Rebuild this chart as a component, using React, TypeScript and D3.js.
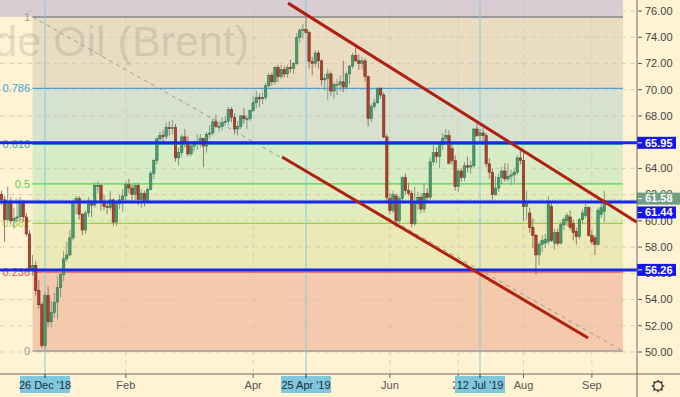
import React from "react";
import * as d3 from "d3";

// ---- data: daily OHLC (open, high, low, close), Brent, one array per month ----
const firstIndex = -14; // Dec 5 2018, index 0 = 26 Dec '18
const dec18: number[][] = [
  [62.0, 62.3, 61.2, 61.6], [61.6, 61.9, 58.4, 60.1], [60.1, 62.6, 60.0, 61.5], [61.4, 61.8, 59.7, 60.0],
  [60.0, 61.0, 59.4, 60.2], [60.2, 61.7, 59.9, 60.3], [60.3, 61.8, 60.0, 61.5], [61.5, 61.6, 59.9, 60.3],
  [60.3, 60.6, 58.8, 59.0], [59.0, 59.3, 56.1, 56.3], [56.2, 57.4, 55.8, 56.6], [56.6, 56.9, 54.3, 54.7],
  [54.7, 55.5, 53.3, 53.6], [53.6, 53.8, 50.3, 50.5], [50.5, 54.6, 50.2, 54.3], [54.3, 55.0, 51.9, 52.3],
  [52.3, 53.9, 51.8, 53.0], [53.0, 54.5, 52.6, 53.8],
];
const jan19: number[][] = [
  [53.8, 55.8, 52.5, 54.9], [54.9, 56.0, 54.2, 55.9], [55.9, 57.7, 55.4, 57.1], [57.1, 58.4, 56.9, 57.4],
  [57.4, 59.3, 57.3, 58.7], [58.7, 61.6, 58.5, 61.4], [61.4, 61.9, 60.5, 61.7], [61.7, 61.9, 60.1, 60.5],
  [60.5, 60.6, 58.9, 59.3], [59.3, 60.8, 59.0, 60.6], [60.6, 61.8, 60.3, 61.3], [61.3, 61.6, 60.3, 61.2],
  [61.2, 62.9, 61.0, 62.7], [62.7, 63.0, 62.1, 62.7], [62.7, 62.8, 60.8, 61.5], [61.5, 62.0, 60.8, 61.1],
  [61.1, 61.5, 60.5, 61.0], [61.0, 62.3, 60.8, 61.6], [61.6, 61.7, 59.6, 59.9], [59.9, 61.5, 59.6, 61.3],
  [61.3, 62.0, 60.9, 61.6], [61.6, 62.4, 60.7, 61.9],
];
const feb19: number[][] = [
  [61.9, 63.0, 61.3, 62.75], [62.75, 63.2, 62.1, 62.5], [62.5, 62.8, 61.3, 62.0], [62.0, 62.9, 61.5, 62.7],
  [62.7, 62.9, 61.2, 61.6], [61.6, 62.4, 61.0, 62.1], [62.1, 62.3, 61.1, 61.5], [61.5, 62.6, 61.3, 62.4],
  [62.4, 63.8, 62.3, 63.6], [63.6, 64.7, 63.2, 64.6], [64.6, 66.4, 64.3, 66.25], [66.25, 66.8, 66.1, 66.5],
  [66.5, 66.9, 65.9, 66.45], [66.45, 67.5, 66.2, 67.1], [67.1, 67.6, 66.5, 67.05], [67.05, 67.7, 66.6, 67.1],
  [67.1, 67.4, 64.5, 64.8], [64.8, 65.6, 64.2, 65.2], [65.2, 66.6, 64.9, 66.4], [66.4, 67.0, 65.6, 66.0],
];
const mar19: number[][] = [
  [66.0, 66.5, 64.9, 65.1], [65.1, 66.0, 64.9, 65.7], [65.7, 66.1, 65.3, 65.9], [65.9, 66.6, 65.4, 66.0],
  [66.0, 66.6, 65.6, 66.3], [66.3, 66.3, 64.1, 65.7], [65.7, 66.8, 65.2, 66.6], [66.6, 67.3, 66.3, 66.7],
  [66.7, 67.8, 66.5, 67.55], [67.55, 68.1, 67.1, 67.2], [67.2, 67.6, 66.8, 67.2], [67.2, 67.9, 66.9, 67.5],
  [67.5, 68.0, 67.2, 67.6], [67.6, 68.7, 67.3, 68.5], [68.5, 68.7, 67.5, 67.9], [67.9, 68.2, 66.6, 67.0],
  [67.0, 67.6, 66.5, 67.2], [67.2, 68.1, 67.0, 68.0], [68.0, 68.6, 67.4, 67.8], [67.8, 68.0, 67.0, 67.8],
  [67.8, 68.5, 67.6, 68.4],
];
const apr19: number[][] = [
  [68.4, 69.5, 68.3, 69.0], [69.0, 69.9, 68.6, 69.4], [69.4, 69.7, 68.7, 69.3], [69.3, 69.8, 68.9, 69.4],
  [69.4, 70.5, 69.2, 70.3], [70.3, 71.3, 70.1, 71.1], [71.1, 71.3, 70.3, 70.6], [70.6, 71.8, 70.4, 71.7],
  [71.7, 71.9, 70.6, 71.0], [71.0, 71.9, 70.8, 71.55], [71.55, 71.8, 70.9, 71.2], [71.2, 71.9, 70.9, 71.7],
  [71.7, 72.3, 71.3, 71.6], [71.6, 72.1, 71.2, 72.0], [72.0, 74.3, 71.9, 74.0], [74.0, 74.7, 73.6, 74.5],
  [74.5, 75.0, 73.9, 74.6], [74.6, 75.6, 74.3, 74.35], [74.35, 74.5, 71.6, 72.15], [72.15, 72.5, 71.1, 72.0],
  [72.0, 73.0, 71.7, 72.8],
];
const may19: number[][] = [
  [72.8, 73.0, 71.6, 72.2], [72.2, 72.3, 70.3, 70.75], [70.75, 71.2, 69.9, 70.85], [70.85, 71.6, 69.2, 71.2],
  [71.2, 71.4, 69.5, 69.9], [69.9, 70.6, 69.3, 70.4], [70.4, 70.8, 69.6, 70.4], [70.4, 71.1, 69.9, 70.6],
  [70.6, 72.2, 69.8, 70.2], [70.2, 71.4, 70.0, 71.2], [71.2, 71.9, 70.4, 71.8], [71.8, 72.8, 71.6, 72.6],
  [72.6, 73.3, 72.1, 72.2], [72.2, 72.7, 71.5, 72.0], [72.0, 72.5, 71.6, 72.2], [72.2, 72.4, 70.6, 71.0],
  [71.0, 71.1, 67.2, 67.8], [67.8, 68.9, 67.5, 68.7], [68.7, 69.3, 68.5, 69.0], [69.0, 70.2, 68.9, 70.1],
  [70.1, 70.2, 69.3, 69.6], [69.6, 69.8, 66.3, 66.4], [66.4, 66.6, 61.5, 61.8],
];
const jun19: number[][] = [
  [61.7, 62.1, 60.5, 60.8], [60.8, 62.3, 60.6, 62.0], [61.9, 62.1, 59.5, 60.0], [60.0, 61.9, 59.8, 61.7],
  [61.7, 63.4, 61.5, 63.3], [63.3, 63.6, 62.0, 62.3], [62.3, 62.9, 61.9, 62.1], [62.1, 62.3, 59.5, 59.8],
  [59.8, 62.6, 59.6, 61.3], [61.3, 62.2, 60.8, 61.8], [61.8, 62.1, 60.6, 60.9], [60.9, 62.8, 60.6, 62.1],
  [62.1, 62.5, 61.5, 61.8], [61.8, 64.8, 61.6, 64.5], [64.5, 65.8, 64.2, 65.2], [65.2, 65.6, 64.4, 64.9],
  [64.9, 66.0, 64.0, 65.8], [65.8, 66.7, 65.4, 66.3], [66.3, 67.0, 66.0, 66.5], [66.5, 66.9, 64.3, 64.4],
];
const jul19: number[][] = [
  [65.5, 66.0, 64.3, 64.6], [64.6, 65.0, 62.3, 62.6], [62.6, 64.0, 62.2, 63.8], [63.8, 64.0, 63.0, 63.3],
  [63.3, 64.5, 63.0, 64.2], [64.2, 64.9, 63.7, 64.1], [64.1, 64.6, 63.6, 64.2], [64.2, 67.1, 64.0, 67.0],
  [67.0, 67.4, 66.4, 66.5], [66.5, 67.0, 66.0, 66.7], [66.7, 67.1, 65.8, 66.5], [66.5, 66.7, 64.1, 64.35],
  [64.35, 64.8, 63.2, 63.7], [63.7, 64.0, 61.4, 62.0], [62.0, 63.4, 61.9, 62.5], [62.5, 63.6, 62.2, 63.3],
  [63.3, 64.1, 62.8, 63.8], [63.8, 64.4, 63.0, 63.2], [63.2, 64.4, 63.0, 63.4], [63.4, 63.9, 62.7, 63.5],
  [63.5, 64.0, 62.9, 63.7], [63.7, 65.0, 63.5, 64.8], [64.8, 65.5, 64.3, 64.6],
];
const aug19: number[][] = [
  [64.6, 65.3, 60.0, 61.1], [61.1, 62.3, 60.1, 61.4], [60.6, 61.0, 59.1, 59.5], [59.5, 60.2, 57.9, 58.9],
  [58.9, 59.0, 55.9, 57.4], [57.4, 58.4, 56.6, 58.2], [58.2, 58.9, 57.6, 58.5], [58.3, 59.0, 57.9, 58.6],
  [58.4, 61.9, 58.2, 61.3], [61.1, 61.4, 58.4, 58.5], [58.3, 59.4, 57.8, 59.1], [59.1, 59.4, 58.1, 58.3],
  [58.3, 59.9, 58.2, 59.7], [59.7, 60.3, 59.3, 60.1], [60.0, 60.6, 59.6, 60.4], [60.3, 60.8, 59.3, 59.5],
  [59.8, 60.1, 58.5, 59.1], [59.2, 59.5, 58.2, 58.8], [58.8, 60.2, 58.6, 60.1], [60.1, 60.9, 59.8, 60.6],
  [60.4, 61.3, 60.2, 61.0], [61.0, 61.1, 58.8, 58.9],
];
const sep19: number[][] = [
  [58.9, 59.3, 58.2, 58.4], [58.7, 58.9, 57.4, 58.2], [58.2, 61.0, 58.1, 60.8], [60.5, 61.4, 60.2, 61.0],
  [60.7, 62.3, 59.9, 61.58],
];

// Fibonacci retracement
const fibHigh = 75.55;
const fibLow = 50.08;
const fibStartIdx = -4;
const fibEndIdx = 186;
const fibLevels = [1, 0.786, 0.618, 0.5, 0.382, 0.236, 0];
const fibLabels = ["1", "0.786", "0.618", "0.5", "0.382", "0.236", "0"];
const fibLineColors = ["#9a9a9a", "#4a9fd8", "#2db59b", "#4fd44f", "#a2cf3e", "#e05a4f", "#9a9a9a"];
const fibZoneColors = ["#eadcc1", "#d7e1cf", "#d7ebc5", "#e2edbd", "#ece9b6", "#f5c9ac"];

// horizontal levels
const levelPrices = [65.95, 61.44, 56.26];
const lastPrice = 61.58;

// trend channel lines [index, price]
const upperChannel: [number, number][] = [[78.2, 76.6], [190.5, 59.9]];
const lowerChannel: [number, number][] = [[76.3, 64.87], [174.8, 51.07]];

// axes
const priceTicks = [50, 52, 54, 56, 58, 60, 62, 64, 66, 68, 70, 72, 74, 76];
const monthTickIdx = [26, 67, 111, 133, 154, 176];
const monthTickLabels = ["Feb", "Apr", "Jun", "2", "Aug", "Sep"];
const markerIdx = [0, 84, 140];
const markerLabels = ["26 Dec '18", "25 Apr '19", "12 Jul '19"];

const W = 680;
const H = 397;
const axisX = 637;
const axisY = 374;
const FONT = "'Liberation Sans Narrow', 'Liberation Sans', Arial, sans-serif";

export default function App() {
  const x = d3.scaleLinear().domain([0, 84]).range([45, 306]);
  const y = d3.scaleLinear().domain([50, 76]).range([352, 11]);
  const bars = [dec18, jan19, feb19, mar19, apr19, may19, jun19, jul19, aug19, sep19]
    .flat()
    .map((d, k) => ({ i: k + firstIndex, o: d[0], h: d[1], l: d[2], c: d[3] }));

  const fibPrice = (lv: number) => fibLow + (fibHigh - fibLow) * lv;
  const fx0 = x(fibStartIdx);
  const fx1 = x(fibEndIdx);
  const line = d3.line<[number, number]>().x((d) => x(d[0])).y((d) => y(d[1]));
  const bw = 2.5;

  return (
    <div style={{ position: "absolute", left: 0, top: 0, width: W, height: H }}>
      <svg width={W} height={H} style={{ display: "block" }} fontFamily={FONT}>
        <defs>
          <clipPath id="plot">
            <rect x={0} y={0} width={axisX} height={axisY} />
          </clipPath>
        </defs>
        <rect x={0} y={0} width={W} height={H} fill="#fff3d4" />
        <g clipPath="url(#plot)">
          {/* band above level 1 */}
          <rect x={0} y={0} width={fx1} height={y(fibPrice(1))} fill="#d9cdd3" />
          {/* fib zones */}
          {fibZoneColors.map((col, k) => {
            const yTop = y(fibPrice(fibLevels[k]));
            const yBot = y(fibPrice(fibLevels[k + 1]));
            return <rect key={k} x={fx0} y={yTop} width={fx1 - fx0} height={yBot - yTop} fill={col} />;
          })}
          {/* grid */}
          {priceTicks.map((p) => (
            <line key={p} x1={0} x2={axisX} y1={y(p)} y2={y(p)} stroke="#cfc6b4" strokeOpacity={0.75} strokeDasharray="5,4" />
          ))}
          {monthTickIdx.map((t) => (
            <line key={t} x1={x(t)} x2={x(t)} y1={0} y2={axisY} stroke="#cfc6b4" strokeOpacity={0.75} strokeDasharray="5,4" />
          ))}
          {/* watermark */}
          <text x={249} y={56} textAnchor="end" fontSize={43} fontFamily="'Liberation Sans', Arial, sans-serif" fill="#6e6e6e" fillOpacity={0.2}>
            Crude Oil (Brent)
          </text>
          {/* fib lines */}
          {fibLevels.map((lv, k) => (
            <line key={lv} x1={fx0} x2={fx1} y1={y(fibPrice(lv))} y2={y(fibPrice(lv))} stroke={fibLineColors[k]}
              strokeWidth={lv === 1 ? 2 : lv === 0 ? 1.5 : 1.2} />
          ))}
          {fibLevels.map((lv, k) => (
            <text key={"l" + lv} x={30} y={y(fibPrice(lv))} dy="0.35em" textAnchor="end" fontSize={11}
              fill={fibLineColors[k]}>{fibLabels[k]}</text>
          ))}
          <path d={line([[fibStartIdx, fibHigh], [fibEndIdx, fibLow]]) || ""} stroke="#9a9a9a" strokeWidth={1}
            strokeDasharray="4,4" fill="none" />
          {/* marker verticals */}
          {markerIdx.map((t) => (
            <line key={t} x1={x(t)} x2={x(t)} y1={0} y2={axisY} stroke="#84c9e2" strokeWidth={1} />
          ))}
          {/* candles */}
          {bars.map((b) => {
            const up = b.c >= b.o;
            const cx = x(b.i);
            const top = y(Math.max(b.o, b.c));
            const bot = y(Math.min(b.o, b.c));
            return (
              <g key={b.i}>
                <line x1={cx} x2={cx} y1={y(b.h)} y2={y(b.l)} stroke={up ? "#7f9a8a" : "#98766c"} strokeWidth={1} />
                <rect x={cx - bw / 2} y={top} width={bw} height={Math.max(1, bot - top)}
                  fill={up ? "#4b9a6d" : "#a8432d"} stroke={up ? "#2f6e4b" : "#742716"} strokeWidth={0.5} />
              </g>
            );
          })}
          {/* horizontal levels */}
          <line x1={0} x2={axisX} y1={y(lastPrice)} y2={y(lastPrice)} stroke="#6f9f83" strokeWidth={1} strokeDasharray="1,2" />
          {levelPrices.map((p) => (
            <line key={p} x1={0} x2={axisX} y1={y(p)} y2={y(p)} stroke="#1428f0" strokeWidth={3} />
          ))}
          {/* channel */}
          <path d={line(upperChannel) || ""} stroke="#b0200f" strokeWidth={3} fill="none" />
          <path d={line(lowerChannel) || ""} stroke="#b0200f" strokeWidth={3} fill="none" />
        </g>
        {/* right axis */}
        <rect x={axisX} y={0} width={W - axisX} height={H} fill="#fff3d4" />
        <rect x={0} y={axisY} width={W} height={H - axisY} fill="#fff3d4" />
        {priceTicks.map((p) => (
          <g key={p}>
            <line x1={axisX + 1} x2={axisX + 5} y1={y(p)} y2={y(p)} stroke="#555" />
            <text x={axisX + 8} y={y(p)} dy="0.35em" fontSize={11} fill="#444">{p.toFixed(2)}</text>
          </g>
        ))}
        {/* price boxes */}
        {[
          { p: 65.95, yc: y(65.95), fill: "#1414ee", w: 39 },
          { p: lastPrice, yc: y(lastPrice) - 1.5, fill: "#6f9f83", w: 43 },
          { p: 61.44, yc: y(61.44) + 10.5, fill: "#1414ee", w: 39 },
          { p: 56.26, yc: y(56.26), fill: "#1414ee", w: 39 },
        ].map((b) => (
          <g key={b.p}>
            <rect x={axisX} y={b.yc - 6} width={b.w} height={12} fill={b.fill} />
            <line x1={axisX + 1} x2={axisX + 5} y1={b.yc} y2={b.yc} stroke="#fff" />
            <text x={axisX + 8} y={b.yc} dy="0.35em" fontSize={11} fontWeight="bold" fill="#fff">{b.p.toFixed(2)}</text>
          </g>
        ))}
        <line x1={axisX} x2={axisX} y1={0} y2={H} stroke="#6a6a6a" strokeWidth={1} />
        <line x1={0} x2={W} y1={axisY} y2={axisY} stroke="#6a6a6a" strokeWidth={1} />
        {/* bottom axis */}
        {monthTickIdx.map((t, k) => (
          <g key={t}>
            <line x1={x(t)} x2={x(t)} y1={axisY} y2={axisY + 4} stroke="#666" />
            <text x={x(t)} y={389} textAnchor={k === 3 ? "end" : "middle"} fontSize={11} fill="#555">{monthTickLabels[k]}</text>
          </g>
        ))}
        {markerIdx.map((t, k) => (
          <g key={t}>
            <rect x={x(t) - 25} y={axisY + 2} width={50} height={17} fill="#7fc7dc" />
            <line x1={x(t)} x2={x(t)} y1={axisY} y2={axisY + 4} stroke="#333" />
            <text x={x(t)} y={389} textAnchor="middle" fontSize={11} fill="#1c2f38">{markerLabels[k]}</text>
          </g>
        ))}
        {/* settings gear */}
        <g transform="translate(658,386)" stroke="#222" fill="none" strokeWidth={1.2}>
          <circle r={4.3} />
          {d3.range(8).map((k) => {
            const a = (k * Math.PI) / 4;
            return <line key={k} x1={4.3 * Math.cos(a)} y1={4.3 * Math.sin(a)} x2={6.3 * Math.cos(a)} y2={6.3 * Math.sin(a)} />;
          })}
        </g>
      </svg>
    </div>
  );
}
